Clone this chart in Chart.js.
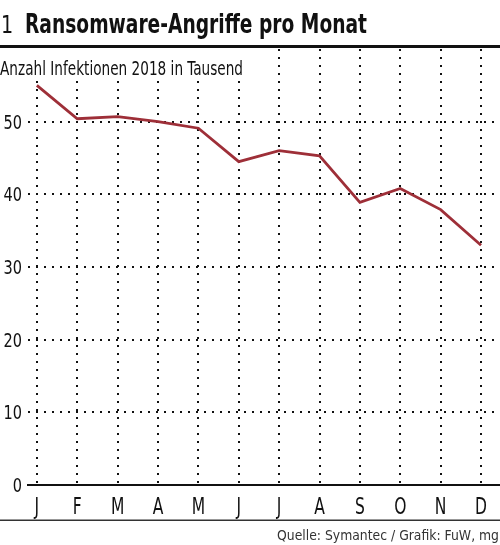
<!DOCTYPE html>
<html>
<head>
<meta charset="utf-8">
<script src="https://cdn.jsdelivr.net/npm/chart.js@4"></script>
<style>
  html, body { margin: 0; padding: 0; background: #fff; }
  #wrap { width: 500px; height: 545px; }
</style>
</head>
<body>
<div id="wrap"><canvas id="chart" width="500" height="545"></canvas></div>
<script>
const months = ['J', 'F', 'M', 'A', 'M', 'J', 'J', 'A', 'S', 'O', 'N', 'D'];
const infektionen = [55.0, 50.4, 50.7, 50.0, 49.1, 44.5, 46.0, 45.3, 38.9, 40.8, 37.9, 33.0];
const yTicks = [0, 10, 20, 30, 40, 50];

const titleNo = '1';
const titleText = 'Ransomware-Angriffe pro Monat';
const subtitleText = 'Anzahl Infektionen 2018 in Tausend';
const sourceText = 'Quelle: Symantec / Grafik: FuW, mg';

const FONT = '"DejaVu Sans Condensed", "Liberation Sans Narrow", "Roboto", sans-serif';
Chart.defaults.font.family = FONT;
Chart.defaults.color = '#111';

// draw text squeezed sideways, the original uses a condensed face
function drawText(ctx, text, x, y, font, squeeze, align, width) {
    ctx.save();
    ctx.font = font;
    let sx = squeeze;
    if (width) sx = width / ctx.measureText(text).width;
    ctx.translate(x, y);
    ctx.scale(sx, 1);
    ctx.textAlign = align;
    ctx.textBaseline = 'alphabetic';
    ctx.fillText(text, 0, 0);
    ctx.restore();
}

const textPlugin = {
    id: 'texts',
    afterDraw(chart) {
        const ctx = chart.ctx;
        const xs = chart.scales.x, ys = chart.scales.y;
        ctx.save();
        // subtitle covers the top of the grid
        ctx.fillStyle = '#fff';
        ctx.fillRect(0, 49, 250, 30);

        ctx.fillStyle = '#111';
        drawText(ctx, titleNo, 1, 33, '25px ' + FONT, 0.85, 'left');
        drawText(ctx, titleText, 25, 33, 'bold 26px ' + FONT, 1, 'left', 342);
        ctx.fillRect(0, 45, 500, 3);
        drawText(ctx, subtitleText, 0, 75, '19px ' + FONT, 1, 'left', 243);

        // tick labels
        months.forEach((m, i) => {
            drawText(ctx, m, xs.getPixelForValue(i), 514, '23px ' + FONT, 0.75, 'center');
        });
        yTicks.forEach(v => {
            drawText(ctx, String(v), 22, ys.getPixelForValue(v) + 7, '19px ' + FONT, 0.85, 'right');
        });

        ctx.fillStyle = '#333';
        ctx.fillRect(0, 519.5, 500, 1.5);
        drawText(ctx, sourceText, 499, 540, '14px ' + FONT, 1, 'right', 222);
        ctx.restore();
    }
};

new Chart(document.getElementById('chart'), {
    type: 'line',
    data: {
        datasets: [{
            data: infektionen.map((v, i) => ({ x: i, y: v })),
            borderColor: '#9e2f38',
            borderWidth: 2.8,
            pointRadius: 0,
            tension: 0,
            fill: false
        }]
    },
    options: {
        responsive: false,
        animation: false,
        layout: { padding: { top: 49, left: 0, right: 0, bottom: 0 } },
        plugins: { legend: { display: false }, tooltip: { enabled: false } },
        scales: {
            x: {
                type: 'linear',
                min: -0.22,
                max: 11.47,
                afterBuildTicks: axis => { axis.ticks = months.map((m, i) => ({ value: i })); },
                afterFit: axis => { axis.height = 60; },
                ticks: { display: false },
                grid: { color: '#111', lineWidth: 2, drawTicks: false },
                border: { display: true, color: '#111', width: 2, dash: [2, 6] }
            },
            y: {
                min: 0,
                max: 60,
                afterBuildTicks: axis => { axis.ticks = yTicks.concat([60]).map(v => ({ value: v })); },
                afterFit: axis => { axis.width = 28; },
                ticks: { display: false },
                grid: {
                    drawTicks: false,
                    lineWidth: 2,
                    color: c => (c.tick && (c.tick.value === 60 || c.tick.value === 0) ? 'rgba(0,0,0,0)' : '#111')
                },
                border: { display: false, dash: [2, 6] }
            }
        }
    },
    plugins: [textPlugin]
});
</script>
</body>
</html>
